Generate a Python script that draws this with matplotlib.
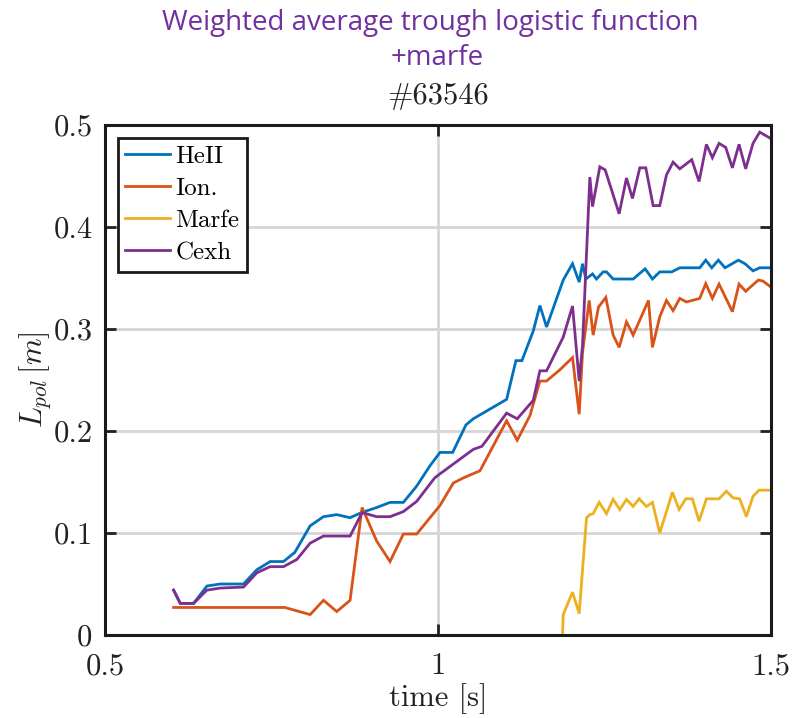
import matplotlib
matplotlib.use("Agg")
import matplotlib.pyplot as plt
from matplotlib.ticker import FixedLocator, FixedFormatter

plt.rcParams["mathtext.fontset"] = "cm"
plt.rcParams["axes.formatter.use_mathtext"] = True

# --- data -----------------------------------------------------------------
heii_t = [0.603, 0.613, 0.633, 0.653, 0.673, 0.708, 0.728, 0.748, 0.768, 0.785,
          0.808, 0.828, 0.848, 0.868, 0.885, 0.908, 0.928, 0.948, 0.968, 0.988,
          1.003, 1.022, 1.042, 1.053, 1.103, 1.117, 1.126, 1.143, 1.153, 1.163,
          1.188, 1.202, 1.212, 1.217, 1.222, 1.232, 1.238, 1.248, 1.253, 1.263,
          1.293, 1.311, 1.322, 1.333, 1.351, 1.363, 1.393, 1.402, 1.411, 1.421,
          1.431, 1.451, 1.461, 1.473, 1.483, 1.500]
heii_v = [0.044, 0.031, 0.031, 0.048, 0.050, 0.050, 0.064, 0.072, 0.072, 0.081,
          0.107, 0.116, 0.118, 0.115, 0.120, 0.125, 0.130, 0.130, 0.146, 0.166,
          0.179, 0.179, 0.206, 0.212, 0.231, 0.269, 0.269, 0.298, 0.323, 0.302,
          0.348, 0.364, 0.346, 0.364, 0.349, 0.354, 0.349, 0.356, 0.356, 0.349,
          0.349, 0.359, 0.349, 0.356, 0.356, 0.360, 0.360, 0.3675, 0.360, 0.3675,
          0.360, 0.3675, 0.364, 0.357, 0.360, 0.360]

ion_t = [0.603, 0.770, 0.808, 0.828, 0.848, 0.868, 0.886, 0.908, 0.928, 0.948,
         0.968, 1.003, 1.023, 1.038, 1.063, 1.103, 1.119, 1.138, 1.153, 1.163,
         1.183, 1.202, 1.212, 1.217, 1.227, 1.233, 1.241, 1.252, 1.263, 1.272,
         1.283, 1.293, 1.316, 1.322, 1.333, 1.343, 1.353, 1.363, 1.373, 1.393,
         1.402, 1.412, 1.422, 1.442, 1.452, 1.462, 1.481, 1.488, 1.500]
ion_v = [0.027, 0.027, 0.020, 0.034, 0.023, 0.034, 0.125, 0.092, 0.072, 0.099,
         0.099, 0.127, 0.149, 0.154, 0.161, 0.210, 0.191, 0.215, 0.249, 0.249,
         0.260, 0.272, 0.2165, 0.277, 0.328, 0.294, 0.3215, 0.331, 0.294, 0.282,
         0.307, 0.294, 0.328, 0.282, 0.312, 0.328, 0.318, 0.330, 0.3265, 0.330,
         0.3445, 0.330, 0.344, 0.317, 0.344, 0.337, 0.348, 0.347, 0.341]

marfe_t = [1.187, 1.188, 1.202, 1.212, 1.223, 1.228, 1.233, 1.242, 1.253,
           1.263, 1.273, 1.283, 1.293, 1.302, 1.313, 1.322, 1.333, 1.352, 1.362,
           1.372, 1.382, 1.392, 1.403, 1.422, 1.433, 1.443, 1.453, 1.463, 1.473,
           1.482, 1.500]
marfe_v = [0.0, 0.020, 0.042, 0.021, 0.115, 0.118, 0.119, 0.130, 0.119,
           0.133, 0.123, 0.133, 0.126, 0.1335, 0.126, 0.130, 0.100, 0.140, 0.123,
           0.1335, 0.1335, 0.1115, 0.1335, 0.1335, 0.141, 0.1345, 0.1335, 0.116, 0.136,
           0.142, 0.142]

cexh_t = [0.603, 0.613, 0.633, 0.653, 0.673, 0.708, 0.728, 0.748, 0.768, 0.788,
          0.808, 0.828, 0.868, 0.886, 0.908, 0.928, 0.948, 0.968, 0.995, 1.003,
          1.053, 1.066, 1.103, 1.119, 1.143, 1.153, 1.163, 1.188, 1.202, 1.212,
          1.217, 1.228, 1.232, 1.243, 1.251, 1.272, 1.283, 1.292, 1.303, 1.312,
          1.323, 1.333, 1.343, 1.353, 1.363, 1.381, 1.392, 1.403, 1.412, 1.422,
          1.432, 1.442, 1.452, 1.462, 1.473, 1.483, 1.500]
cexh_v = [0.044, 0.031, 0.031, 0.044, 0.046, 0.047, 0.061, 0.067, 0.067, 0.074,
          0.090, 0.097, 0.097, 0.120, 0.116, 0.116, 0.121, 0.131, 0.154, 0.158,
          0.182, 0.185, 0.2175, 0.212, 0.230, 0.259, 0.259, 0.292, 0.3225, 0.249,
          0.284, 0.449, 0.420, 0.459, 0.456, 0.413, 0.448, 0.428, 0.458, 0.458,
          0.421, 0.421, 0.451, 0.4636, 0.457, 0.466, 0.4446, 0.481, 0.468, 0.482,
          0.478, 0.458, 0.481, 0.457, 0.482, 0.493, 0.4866]

series_names = ["HeII", "Ion.", "Marfe", "Cexh"]
series_colors = ["#0072BD", "#D95319", "#EDB120", "#7E2F8E"]

x_ticks = [0.5, 1.0, 1.5]
x_tick_labels = ["0.5", "1", "1.5"]
y_ticks = [0.0, 0.1, 0.2, 0.3, 0.4, 0.5]
y_tick_labels = ["0", "0.1", "0.2", "0.3", "0.4", "0.5"]

# --- figure ---------------------------------------------------------------
W, H = 793, 718
fig = plt.figure(figsize=(W / 100, H / 100), dpi=100, facecolor="white")
ax = fig.add_axes([105 / W, 1 - 635 / H, (771 - 105) / W, (635 - 125) / H])

serif = "cmr10"
for t, v, name, col in zip([heii_t, ion_t, marfe_t, cexh_t],
                           [heii_v, ion_v, marfe_v, cexh_v],
                           series_names, series_colors):
    ax.plot(t, v, color=col, lw=2.0, label=name, zorder=3, solid_joinstyle="miter")

ax.set_xlim(0.5, 1.5)
ax.set_ylim(0, 0.5)
ax.xaxis.set_major_locator(FixedLocator(x_ticks))
ax.xaxis.set_major_formatter(FixedFormatter(x_tick_labels))
ax.yaxis.set_major_locator(FixedLocator(y_ticks))
ax.yaxis.set_major_formatter(FixedFormatter(y_tick_labels))

ax.grid(True, color="#d6d6d6", lw=2.0, zorder=0)
ax.set_axisbelow(True)
ax.tick_params(direction="in", length=8, width=2, top=True, right=True,
               labelsize=22, colors="#222222")
ax.tick_params(axis="x", pad=13)
ax.tick_params(axis="y", pad=9)
for lab in ax.get_xticklabels() + ax.get_yticklabels():
    lab.set_fontfamily(serif)
for s in ax.spines.values():
    s.set_linewidth(2.2)
    s.set_color("#1a1a1a")
    s.set_zorder(5)

ax.set_xlabel("time [s]", fontsize=22, fontfamily=serif, labelpad=2, color="#222222")
ax.set_ylabel(r"$L_{pol}\,[m]$", fontsize=22, labelpad=0, color="#222222")

leg = ax.legend(loc="upper left", bbox_to_anchor=(13 / 666, 1 - 13 / 510),
                borderaxespad=0, fancybox=False, edgecolor="#1a1a1a",
                prop={"family": serif, "size": 18}, handlelength=1.8,
                handletextpad=0.2, labelspacing=0.38, borderpad=0.3, framealpha=1)
leg.get_frame().set_linewidth(2.0)

# titles
title_purple = "#7030A0"
fig.text(430 / W, 1 - 23 / H, "Weighted average trough logistic function",
         ha="center", va="center", fontsize=20, color=title_purple, fontfamily="Open Sans")
fig.text(437 / W, 1 - 58 / H, "+marfe", ha="center", va="center", fontsize=20,
         color=title_purple, fontfamily="Open Sans")
fig.text(438 / W, 1 - 96 / H, "#63546", ha="center", va="center", fontsize=22,
         fontfamily=serif, color="#222222")

fig.savefig("out.png", dpi=100, facecolor="white")
